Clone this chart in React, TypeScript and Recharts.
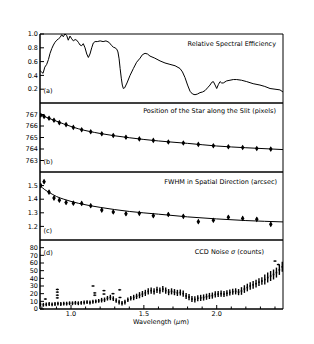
import React from "react";
import { ComposedChart, Line, Scatter, ErrorBar, XAxis, YAxis, ReferenceArea } from "recharts";

const W = 314;
const INK = "#000";
const FONT = "'DejaVu Sans', sans-serif";
const FS = 6.5;

// shared wavelength axis (micron)
const wlDomain = [0.787, 2.455];
const wlTicks = [0.8, 0.9, 1.0, 1.1, 1.2, 1.3, 1.4, 1.5, 1.6, 1.7, 1.8, 1.9, 2.0, 2.1, 2.2, 2.3, 2.4];
const wlLabels = [1.0, 1.5, 2.0];

// (a) relative spectral efficiency
const effWl = [0.787, 0.797, 0.808, 0.82, 0.833, 0.845, 0.856, 0.868, 0.879, 0.89, 0.902, 0.914, 0.925, 0.936, 0.947, 0.958, 0.97, 0.981, 0.993, 1.005, 1.016, 1.028, 1.039, 1.05, 1.062, 1.073, 1.084, 1.096, 1.108, 1.119, 1.13, 1.142, 1.153, 1.165, 1.18, 1.2, 1.22, 1.24, 1.26, 1.28, 1.29, 1.302, 1.314, 1.322, 1.33, 1.337, 1.345, 1.352, 1.359, 1.368, 1.384, 1.405, 1.428, 1.45, 1.474, 1.49, 1.508, 1.525, 1.542, 1.575, 1.611, 1.645, 1.679, 1.714, 1.748, 1.765, 1.782, 1.8, 1.817, 1.834, 1.851, 1.868, 1.885, 1.903, 1.92, 1.937, 1.954, 1.966, 1.977, 1.989, 2.0, 2.012, 2.023, 2.034, 2.045, 2.068, 2.091, 2.114, 2.137, 2.17, 2.206, 2.25, 2.297, 2.33, 2.366, 2.4, 2.434, 2.455];
const effVal = [0.47, 0.45, 0.43, 0.52, 0.56, 0.63, 0.72, 0.79, 0.84, 0.88, 0.91, 0.93, 0.95, 0.99, 0.96, 1.0, 0.98, 0.91, 0.97, 0.93, 0.9, 0.92, 0.91, 0.88, 0.84, 0.83, 0.86, 0.8, 0.71, 0.66, 0.71, 0.8, 0.87, 0.89, 0.89, 0.9, 0.89, 0.9, 0.88, 0.83, 0.81, 0.8, 0.78, 0.74, 0.64, 0.5, 0.36, 0.26, 0.21, 0.22, 0.29, 0.4, 0.5, 0.59, 0.65, 0.7, 0.72, 0.71, 0.68, 0.65, 0.61, 0.58, 0.56, 0.54, 0.5, 0.45, 0.37, 0.26, 0.17, 0.13, 0.12, 0.13, 0.15, 0.16, 0.18, 0.22, 0.26, 0.3, 0.31, 0.26, 0.21, 0.27, 0.31, 0.29, 0.29, 0.32, 0.33, 0.34, 0.34, 0.33, 0.31, 0.28, 0.26, 0.24, 0.21, 0.2, 0.19, 0.16];
const effTicks = [0.2, 0.4, 0.6, 0.8, 1.0];

// (b) position of the star along the slit
const posWl = [0.792, 0.815, 0.849, 0.883, 0.92, 0.966, 1.016, 1.073, 1.135, 1.211, 1.29, 1.377, 1.469, 1.565, 1.668, 1.771, 1.874, 1.977, 2.08, 2.178, 2.275, 2.371];
const posVal = [766.94, 766.82, 766.67, 766.5, 766.29, 766.12, 765.88, 765.67, 765.5, 765.32, 765.17, 765.02, 764.88, 764.75, 764.61, 764.52, 764.4, 764.28, 764.19, 764.13, 764.04, 763.99];
const posErr = [0.15, 0.15, 0.15, 0.15, 0.15, 0.15, 0.15, 0.15, 0.15, 0.15, 0.15, 0.15, 0.15, 0.15, 0.15, 0.15, 0.15, 0.15, 0.15, 0.15, 0.15, 0.15];
const posFitWl = [0.787, 0.85, 0.95, 1.05, 1.2, 1.4, 1.6, 1.8, 2.0, 2.2, 2.455];
const posFitVal = [766.98, 766.66, 766.18, 765.76, 765.35, 764.98, 764.7, 764.49, 764.26, 764.11, 763.95];
const posTicks = [763, 764, 765, 766, 767];

// (c) FWHM in spatial direction
const fwhmVal = [1.5, 1.529, 1.452, 1.408, 1.393, 1.376, 1.371, 1.369, 1.352, 1.32, 1.306, 1.293, 1.296, 1.279, 1.288, 1.274, 1.235, 1.245, 1.267, 1.259, 1.252, 1.215];
const fwhmErr = [0.015, 0.015, 0.015, 0.015, 0.015, 0.015, 0.015, 0.015, 0.015, 0.015, 0.015, 0.015, 0.015, 0.015, 0.015, 0.015, 0.015, 0.015, 0.015, 0.015, 0.015, 0.015];
const fwhmFitWl = [0.787, 0.82, 0.85, 0.9, 0.95, 1.05, 1.2, 1.4, 1.6, 1.8, 2.0, 2.2, 2.455];
const fwhmFitVal = [1.5, 1.47, 1.45, 1.42, 1.4, 1.37, 1.34, 1.31, 1.29, 1.27, 1.255, 1.243, 1.233];
const fwhmTicks = [1.2, 1.3, 1.4, 1.5];

// (d) CCD noise
const noiseWl = [0.79, 0.81, 0.83, 0.85, 0.87, 0.89, 0.91, 0.93, 0.95, 0.97, 0.99, 1.01, 1.03, 1.05, 1.07, 1.09, 1.11, 1.13, 1.15, 1.17, 1.19, 1.21, 1.23, 1.25, 1.27, 1.29, 1.31, 1.33, 1.35, 1.37, 1.39, 1.41, 1.43, 1.45, 1.47, 1.49, 1.51, 1.53, 1.55, 1.57, 1.59, 1.61, 1.63, 1.65, 1.67, 1.69, 1.71, 1.73, 1.75, 1.77, 1.79, 1.81, 1.83, 1.85, 1.87, 1.89, 1.91, 1.93, 1.95, 1.97, 1.99, 2.01, 2.03, 2.05, 2.07, 2.09, 2.11, 2.13, 2.15, 2.17, 2.19, 2.21, 2.23, 2.25, 2.27, 2.29, 2.31, 2.33, 2.35, 2.37, 2.39, 2.41, 2.43, 2.45];
const noiseVal = [6, 5.5, 6, 6.5, 6, 6.5, 7, 6.5, 7, 7, 7.5, 7.5, 8, 7.5, 8, 8.5, 9, 8.5, 9.5, 10, 10.5, 11.5, 12, 14, 15, 13.5, 11, 9, 7.5, 9, 12, 14, 15, 16.5, 18, 19.5, 21, 23, 24, 23, 25, 24, 26, 24, 22, 23, 22, 21, 21.5, 20, 17, 15.5, 13, 12.5, 14, 14.5, 15, 16, 17, 17.5, 19, 19.5, 20, 19.5, 20.5, 21.5, 22.5, 23, 22, 23.5, 26, 28, 30, 31.5, 33, 35, 36.5, 38.5, 41, 43, 45, 47.5, 51, 55];
const noiseErr = [2.5, 2.5, 2.5, 2.5, 2.5, 2.5, 2.5, 2.5, 2.5, 2.5, 2.5, 2.5, 2.5, 2.5, 2.5, 2.5, 2.5, 2.5, 2.5, 2.5, 2.5, 3, 3, 3, 3.5, 3, 3, 3, 3, 3, 3, 3, 3.5, 3.5, 4, 4, 4, 4, 4, 4, 4, 4, 4, 4, 4, 4, 4, 4, 4, 4, 4, 4, 4, 4, 4, 4, 4, 4, 4, 4, 4, 4, 4, 4, 4, 4, 4, 4, 4, 5, 5, 5, 5, 5, 5, 5, 5, 6.5, 6.5, 6.5, 6.5, 6.5, 6.5, 6.5];
const outWl = [0.824, 0.906, 0.906, 0.906, 0.906, 1.151, 1.163, 1.163, 1.226, 1.226, 1.288, 1.334, 1.336, 2.4, 2.423];
const outVal = [13, 25.5, 22, 18, 14.5, 30, 21, 18, 24, 19.5, 20, 25, 15, 62.5, 58];
const noiseTicks = [0, 10, 20, 30, 40, 50, 60, 70, 80];

type Pt = { x: number; y: number; e: number };
const zip = (xs: number[], ys: number[], es?: number[]): Pt[] =>
  xs.map((x, i) => ({ x, y: ys[i], e: es ? es[i] : 0 }));

const effData = zip(effWl, effVal);
const posData = zip(posWl, posVal, posErr);
const posFit = zip(posFitWl, posFitVal);
const fwhmData = zip(posWl, fwhmVal, fwhmErr);
const fwhmFit = zip(fwhmFitWl, fwhmFitVal);
const noiseData = zip(noiseWl, noiseVal, noiseErr);
const outData = zip(outWl, outVal, outWl.map(() => 1.2));

const isLabel = (v: number) => wlLabels.some((l) => Math.abs(l - v) < 1e-6);

function BottomTick(props: any) {
  const { x, y, payload, labels } = props;
  const major = isLabel(payload.value);
  return (
    <g>
      <line x1={x} x2={x} y1={y} y2={y - (major ? 4 : 2.5)} stroke={INK} strokeWidth={1} />
      {labels && major && (
        <text x={x} y={y + 7} textAnchor="middle" fontSize={FS} fontFamily={FONT} fill={INK}>
          {payload.value.toFixed(1)}
        </text>
      )}
    </g>
  );
}

function TopTick(props: any) {
  const { x, y, payload } = props;
  const major = isLabel(payload.value);
  return <line x1={x} x2={x} y1={y} y2={y + (major ? 4 : 2.5)} stroke={INK} strokeWidth={1} />;
}

function LeftTick(props: any) {
  const { x, y, payload, fmt } = props;
  return (
    <g>
      <line x1={x} x2={x + 4} y1={y} y2={y} stroke={INK} strokeWidth={1} />
      <text x={x - 2} y={y} dy="0.35em" textAnchor="end" fontSize={FS} fontFamily={FONT} fill={INK}>
        {fmt(payload.value)}
      </text>
    </g>
  );
}

function RightTick(props: any) {
  const { x, y } = props;
  return <line x1={x} x2={x - 4} y1={y} y2={y} stroke={INK} strokeWidth={1} />;
}

const Diamond = (p: any) => (
  <polygon
    points={`${p.cx},${p.cy - 2.8} ${p.cx + 1.8},${p.cy} ${p.cx},${p.cy + 2.8} ${p.cx - 1.8},${p.cy}`}
    fill={INK}
  />
);
const Dot = (p: any) => <rect x={p.cx - 0.8} y={p.cy - 0.8} width={1.6} height={1.6} fill={INK} />;
const Dash = (p: any) => <rect x={p.cx - 1.5} y={p.cy - 0.6} width={3} height={1.2} fill={INK} />;

const MT = 6;

function Panel({ top, plotH, xLabels, yDomain, yTicks, yFmt, children }: any) {
  const xh = xLabels ? 34 : 0;
  const h = plotH + MT + 1 + xh;
  const axisLine = { stroke: INK, strokeWidth: 1 };
  return (
    <div style={{ position: "absolute", left: 0, top: top - MT, width: W, height: h }}>
      <ComposedChart width={W} height={h} margin={{ top: MT, right: 31, bottom: 1, left: 0 }}>
        <XAxis xAxisId="b" dataKey="x" type="number" domain={wlDomain} ticks={wlTicks} interval={0}
          allowDataOverflow height={xh} tickSize={0} tickMargin={0} tickLine={false} axisLine={axisLine}
          tick={(p: any) => <BottomTick {...p} labels={xLabels} />} />
        <XAxis xAxisId="t" orientation="top" dataKey="x" type="number" domain={wlDomain} ticks={wlTicks}
          interval={0} allowDataOverflow height={0} tickSize={0} tickMargin={0} tickLine={false}
          axisLine={axisLine} tick={(p: any) => <TopTick {...p} />} />
        <YAxis yAxisId="l" dataKey="y" type="number" domain={yDomain} ticks={yTicks} interval={0}
          allowDataOverflow width={40} tickSize={0} tickMargin={0} tickLine={false} axisLine={axisLine}
          tick={(p: any) => <LeftTick {...p} fmt={yFmt} />} />
        <YAxis yAxisId="r" orientation="right" type="number" domain={yDomain} ticks={yTicks} interval={0}
          allowDataOverflow width={0} tickSize={0} tickMargin={0} tickLine={false} axisLine={axisLine}
          tick={(p: any) => <RightTick {...p} />} />
        <ReferenceArea xAxisId="b" yAxisId="l" x1={wlDomain[0]} x2={wlDomain[1]} y1={yDomain[0]} y2={yDomain[1]}
          fill="none" fillOpacity={0} stroke={INK} strokeWidth={1} strokeOpacity={1} ifOverflow="visible" />
        {children}
      </ComposedChart>
    </div>
  );
}

const f1 = (v: number) => v.toFixed(1);
const f0 = (v: number) => String(v);

const txt = { fontSize: FS, fontFamily: FONT, fill: INK } as const;

export default function App() {
  return (
    <div style={{ position: "fixed", left: 0, top: 0, width: W, height: 344, background: "#fff" }}>
      <Panel top={34} plotH={69} yDomain={[0, 1.0]} yTicks={effTicks} yFmt={f1}>
        <Line xAxisId="b" yAxisId="l" data={effData} dataKey="y" type="linear" dot={false}
          stroke={INK} strokeWidth={1} isAnimationActive={false} />
      </Panel>
      <Panel top={103} plotH={69} yDomain={[762, 768]} yTicks={posTicks} yFmt={f0}>
        <Line xAxisId="b" yAxisId="l" data={posFit} dataKey="y" type="monotone" dot={false}
          stroke={INK} strokeWidth={1} isAnimationActive={false} />
        <Scatter xAxisId="b" yAxisId="l" data={posData} dataKey="y" shape={Diamond} isAnimationActive={false}>
          <ErrorBar dataKey="e" direction="y" width={0} stroke={INK} strokeWidth={1} />
        </Scatter>
      </Panel>
      <Panel top={172} plotH={68} yDomain={[1.1, 1.6]} yTicks={fwhmTicks} yFmt={f1}>
        <Line xAxisId="b" yAxisId="l" data={fwhmFit} dataKey="y" type="monotone" dot={false}
          stroke={INK} strokeWidth={1} isAnimationActive={false} />
        <Scatter xAxisId="b" yAxisId="l" data={fwhmData} dataKey="y" shape={Diamond} isAnimationActive={false}>
          <ErrorBar dataKey="e" direction="y" width={0} stroke={INK} strokeWidth={1} />
        </Scatter>
      </Panel>
      <Panel top={240} plotH={69} xLabels yDomain={[0, 90]} yTicks={noiseTicks} yFmt={f0}>
        <Scatter xAxisId="b" yAxisId="l" data={noiseData} dataKey="y" shape={Dot} isAnimationActive={false}>
          <ErrorBar dataKey="e" direction="y" width={0} stroke={INK} strokeWidth={1.4} />
        </Scatter>
        <Scatter xAxisId="b" yAxisId="l" data={outData} dataKey="y" shape={Dash} isAnimationActive={false}>
          <ErrorBar dataKey="e" direction="y" width={0} stroke={INK} strokeWidth={0.8} />
        </Scatter>
      </Panel>
      <svg width={W} height={344} style={{ position: "absolute", left: 0, top: 0, pointerEvents: "none" }}>
        <text x={276} y={46.3} textAnchor="end" {...txt}>Relative Spectral Efficiency</text>
        <text x={276} y={113.3} textAnchor="end" {...txt}>Position of the Star along the Slit (pixels)</text>
        <text x={277} y={184} textAnchor="end" {...txt}>FWHM in Spatial Direction (arcsec)</text>
        <text x={264} y={254.3} textAnchor="end" {...txt}>
          CCD Noise <tspan fontStyle="italic">σ</tspan> (counts)
        </text>
        <text x={43.5} y={93.3} {...txt}>(a)</text>
        <text x={43.5} y={164.3} {...txt}>(b)</text>
        <text x={43.5} y={233} {...txt}>(c)</text>
        <text x={43.5} y={254.6} {...txt}>(d)</text>
        <text x={161} y={324} textAnchor="middle" {...txt}>
          Wavelength (<tspan fontStyle="italic">μ</tspan>m)
        </text>
      </svg>
    </div>
  );
}
